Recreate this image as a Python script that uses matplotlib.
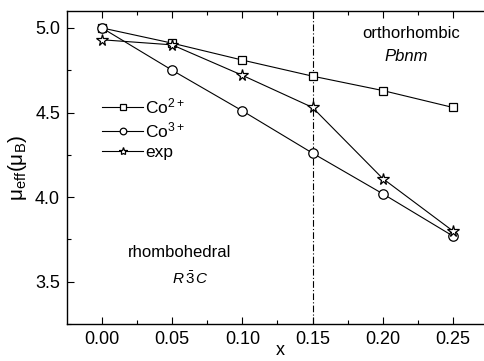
import numpy as np
import matplotlib.pyplot as plt
from matplotlib.ticker import MultipleLocator

plt.rcParams['font.family'] = ['Liberation Sans', 'DejaVu Sans']
plt.rcParams['mathtext.fontset'] = 'custom'
plt.rcParams['mathtext.rm'] = 'Liberation Sans'
plt.rcParams['mathtext.it'] = 'Liberation Sans:italic'

# data
x = [0.00, 0.05, 0.10, 0.15, 0.20, 0.25]
co2 = [5.00, 4.91, 4.81, 4.715, 4.63, 4.53]
co3 = [5.00, 4.75, 4.51, 4.26, 4.02, 3.77]
exp = [4.93, 4.90, 4.72, 4.53, 4.11, 3.80]

fig = plt.figure(figsize=(4.84, 3.61), dpi=100)
# right edge of the axes runs past the picture, as in the reference
ax = fig.add_axes([0.1384, 0.1025, 0.882, 0.867])

mk = dict(color='black', lw=0.8, mfc='white', mec='black', mew=0.9)
ax.plot(x, co2, marker='s', ms=6, label='Co$^{2+}$', **mk)
ax.plot(x, co3, marker='o', ms=6.8, label='Co$^{3+}$', **mk)
ax.plot(x, exp, marker='*', ms=8.5, label='exp', **mk)

ax.axvline(0.15, color='black', lw=0.8, ls='-.', dashes=(6, 2, 1, 2), zorder=0)

ax.set_xlim(-0.0249, 0.2792)
ax.set_ylim(3.25, 5.1)
ax.xaxis.set_minor_locator(MultipleLocator(0.025))
ax.yaxis.set_minor_locator(MultipleLocator(0.25))
ax.set_xticks(x)
ax.set_xticklabels(['%.2f' % v for v in x])
ax.set_yticks([3.5, 4.0, 4.5, 5.0])
ax.set_yticklabels(['3.5', '4.0', '4.5', '5.0'])
ax.tick_params(which='both', direction='in', top=True, right=False, labelsize=13, width=0.8)
ax.tick_params(which='major', length=5, pad=5)
ax.tick_params(which='minor', length=3)
for s in ax.spines.values():
    s.set_linewidth(1.0)
ax.spines['right'].set_visible(False)

ax.set_xlabel('x', fontsize=13, labelpad=-4)
ax.set_ylabel(r'$\mathrm{\mu_{eff}(\mu_B)}$', fontsize=15, labelpad=4)

ax.text(0.0556, 3.67, 'rhombohedral', ha='center', va='center', fontsize=12)
ax.text(0.0627, 3.52, r'$R\,\bar{3}\,C$', ha='center', va='center', fontsize=11)
ax.text(0.220, 4.97, 'orthorhombic', ha='center', va='center', fontsize=12)
ax.text(0.217, 4.83, 'Pbnm', ha='center', va='center', fontsize=12, style='italic')

ax.legend(loc='upper left', bbox_to_anchor=(0.065, 0.75), frameon=False, fontsize=12.5,
          handlelength=2.4, handletextpad=0.1, labelspacing=0.25, borderaxespad=0,
          markerscale=0.7)

fig.savefig('out.png', dpi=100)
